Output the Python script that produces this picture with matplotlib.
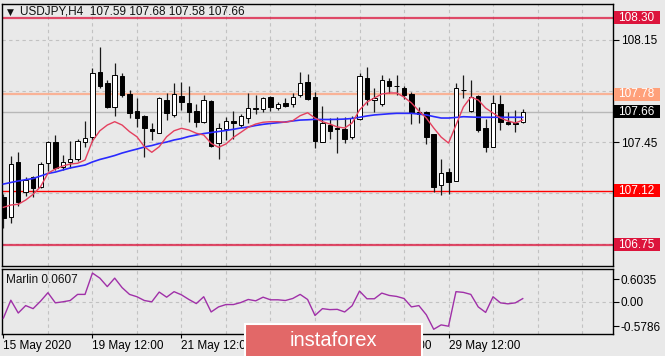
import matplotlib
matplotlib.use('Agg')
import matplotlib.pyplot as plt
import matplotlib.transforms as mtransforms
from matplotlib.patches import Rectangle
import numpy as np

plt.rcParams['font.family'] = ['Liberation Sans', 'DejaVu Sans']

# ---------------- data ----------------
title_text = "USDJPY,H4  107.59 107.68 107.58 107.66"
osc_name = "Marlin 0.0607"

opens = [107.080, 106.939, 107.315, 107.110, 107.212, 107.148, 107.312, 107.455, 107.285, 107.319,
         107.337, 107.451, 107.489, 107.929, 107.854, 107.694, 107.904, 107.779, 107.665, 107.631,
         107.542, 107.518, 107.740, 107.638, 107.769, 107.720, 107.668, 107.593, 107.733, 107.446,
         107.539, 107.599, 107.569, 107.619, 107.677, 107.679, 107.763, 107.687, 107.718, 107.711,
         107.774, 107.860, 107.763, 107.455, 107.569, 107.551, 107.540, 107.489, 107.608, 107.888,
         107.740, 107.713, 107.870, 107.836, 107.820, 107.779, 107.660, 107.661, 107.506, 107.160,
         107.250, 107.189, 107.808, 107.665, 107.769, 107.547, 107.421, 107.713, 107.592, 107.585,
         107.59]
highs = [107.098, 107.358, 107.383, 107.216, 107.221, 107.319, 107.460, 107.501, 107.364, 107.460,
         107.474, 107.599, 107.957, 108.104, 107.877, 107.991, 107.926, 107.805, 107.752, 107.638,
         107.581, 107.763, 107.786, 107.858, 107.863, 107.839, 107.713, 107.774, 107.740, 107.583,
         107.624, 107.665, 107.644, 107.790, 107.774, 107.763, 107.767, 107.728, 107.752, 107.786,
         107.929, 107.918, 107.797, 107.699, 107.615, 107.626, 107.626, 107.631, 107.922, 107.962,
         107.820, 107.911, 107.890, 107.911, 107.839, 107.797, 107.694, 107.665, 107.511, 107.335,
         107.274, 107.854, 107.911, 107.877, 107.774, 107.608, 107.774, 107.774, 107.660, 107.672,
         107.68]
lows = [106.864, 106.902, 107.018, 107.087, 107.080, 107.141, 107.257, 107.262, 107.262, 107.274,
        107.326, 107.421, 107.455, 107.820, 107.683, 107.629, 107.763, 107.615, 107.558, 107.349,
        107.467, 107.513, 107.603, 107.627, 107.672, 107.592, 107.558, 107.581, 107.421, 107.334,
        107.467, 107.472, 107.554, 107.581, 107.644, 107.660, 107.667, 107.672, 107.694, 107.694,
        107.758, 107.740, 107.409, 107.450, 107.472, 107.380, 107.448, 107.472, 107.603, 107.706,
        107.660, 107.699, 107.788, 107.774, 107.747, 107.576, 107.581, 107.440, 107.114, 107.091,
        107.098, 107.187, 107.752, 107.661, 107.524, 107.387, 107.418, 107.535, 107.569, 107.519,
        107.58]
closes = [106.932, 107.301, 107.041, 107.194, 107.141, 107.301, 107.455, 107.274, 107.315, 107.337,
          107.460, 107.479, 107.922, 107.838, 107.694, 107.911, 107.774, 107.649, 107.615, 107.547,
          107.528, 107.752, 107.648, 107.779, 107.728, 107.660, 107.592, 107.740, 107.429, 107.547,
          107.597, 107.581, 107.631, 107.687, 107.683, 107.752, 107.694, 107.711, 107.699, 107.763,
          107.854, 107.748, 107.460, 107.581, 107.530, 107.540, 107.472, 107.615, 107.904, 107.745,
          107.752, 107.877, 107.836, 107.834, 107.774, 107.649, 107.642, 107.489, 107.144, 107.240,
          107.178, 107.820, 107.806, 107.763, 107.535, 107.421, 107.718, 107.592, 107.576, 107.574,
          107.66]
ma_fast = [107.007, 107.023, 107.028, 107.057, 107.096, 107.148, 107.240, 107.269, 107.289, 107.303,
           107.308, 107.330, 107.460, 107.530, 107.569, 107.592, 107.569, 107.524, 107.489, 107.421,
           107.383, 107.421, 107.489, 107.530, 107.547, 107.535, 107.513, 107.501, 107.444, 107.417,
           107.440, 107.485, 107.519, 107.554, 107.576, 107.588, 107.592, 107.592, 107.588, 107.599,
           107.633, 107.653, 107.617, 107.592, 107.576, 107.556, 107.549, 107.583, 107.672, 107.726,
           107.754, 107.781, 107.788, 107.788, 107.760, 107.720, 107.665, 107.617, 107.549, 107.487,
           107.446, 107.569, 107.692, 107.760, 107.740, 107.685, 107.651, 107.617, 107.597, 107.583,
           107.603]
ma_slow = [107.166, 107.177, 107.187, 107.196, 107.204, 107.221, 107.238, 107.248, 107.262, 107.276,
           107.286, 107.296, 107.317, 107.334, 107.347, 107.361, 107.378, 107.392, 107.405, 107.419,
           107.429, 107.443, 107.453, 107.467, 107.477, 107.491, 107.501, 107.511, 107.518, 107.525,
           107.532, 107.540, 107.549, 107.556, 107.566, 107.574, 107.580, 107.585, 107.590, 107.597,
           107.603, 107.605, 107.608, 107.607, 107.607, 107.608, 107.610, 107.614, 107.622, 107.631,
           107.638, 107.642, 107.646, 107.649, 107.649, 107.649, 107.644, 107.638, 107.627, 107.617,
           107.617, 107.621, 107.626, 107.624, 107.622, 107.622, 107.622, 107.622, 107.622, 107.622,
           107.622]
marlin = [-0.296, 0.032, -0.203, -0.067, -0.123, 0.013, 0.169, -0.017, 0.002, 0.026,
          0.138, 0.138, 0.529, 0.436, 0.281, 0.436, 0.262, 0.138, 0.095, 0.026,
          0.002, 0.181, 0.087, 0.188, 0.130, 0.045, -0.030, 0.095, -0.184, -0.091,
          -0.048, -0.048, -0.011, 0.045, 0.020, 0.087, 0.039, 0.039, 0.026, 0.063,
          0.138, 0.045, -0.248, -0.123, -0.141, -0.136, -0.184, -0.070, 0.199, 0.058,
          0.058, 0.162, 0.119, 0.101, 0.063, -0.091, -0.067, -0.235, -0.501, -0.421,
          -0.445, 0.188, 0.175, 0.138, -0.091, -0.192, 0.095, -0.017, -0.035, -0.017,
          0.0607]

level_prices = [108.30, 107.78, 107.12, 106.75]
level_colors = ['#DC143C', '#FFA07A', '#FF0000', '#DC143C']
current_price = 107.66
price_ticks = [108.15, 107.45]
price_grid = [108.15, 107.80, 107.45, 107.105, 106.76]
osc_min, osc_max = -0.5786, 0.6035
date_ticks = [0, 12, 24, 36, 48, 60]
date_labels = ['15 May 2020', '19 May 12:00', '21 May 12:00', '25 May 12:00',
               '27 May 12:00', '29 May 12:00']

# ---------------- figure ----------------
W, H = 665, 356
fig = plt.figure(figsize=(W / 100, H / 100), dpi=100)
bg = '#e9e9e9'
fig.patch.set_facecolor(bg)


def rect(l, t, r, b):
    return [l / W, 1 - b / H, (r - l) / W, (b - t) / H]


ax = fig.add_axes(rect(2.3, 3.5, 612.5, 265.5))
axo = fig.add_axes(rect(2.3, 269, 612.5, 333.5), sharex=ax)
for a in (ax, axo):
    a.set_facecolor(bg)
    for s in a.spines.values():
        s.set_color('black')
        s.set_linewidth(1)

n = len(closes)
x = np.arange(n)
o = np.array(opens); c = np.array(closes)
hi = np.array(highs); lo = np.array(lows)

ax.set_xlim(-0.15, 82.1)
ax.set_ylim(106.610, 108.399)
axo.set_ylim(osc_min, osc_max)

grid_kw = dict(color='#c2c2c2', lw=0.8, ls=(0, (3, 3)), zorder=0)
for xv in range(6, 83, 6):
    ax.axvline(xv, **grid_kw)
    axo.axvline(xv, **grid_kw)
for yv in price_grid:
    ax.axhline(yv, **grid_kw)
axo.axhline(0, **grid_kw)

# levels
for p, col in zip(level_prices, level_colors):
    lw = 1.0 if col == '#FF0000' else 1.6
    alpha = 1.0 if col == '#FF0000' else 0.75
    ax.axhline(p, color=col, lw=lw, alpha=alpha, zorder=1)
ax.axhline(current_price, color='#b8b8b8', lw=1.0, zorder=1)

# candles
ax.vlines(x, lo, hi, color='#1a1a1a', lw=0.9, zorder=3)
up = c >= o
body_h = np.maximum(np.abs(c - o), 0.002)
ax.bar(x, body_h, bottom=np.minimum(o, c), width=0.6,
       color=np.where(up, 'white', 'black'), edgecolor='black', linewidth=0.7, zorder=4)

ax.plot(x, ma_slow, color='#2a2aff', lw=1.2, zorder=5)
ax.plot(x, ma_fast, color='#e4405e', lw=1.0, zorder=6)

# right price axis
ax.yaxis.tick_right()
ax.set_yticks(price_ticks)
ax.set_yticklabels([f'{v:.2f}' for v in price_ticks])
ax.tick_params(axis='y', direction='out', length=4, pad=2, labelsize=8.5, colors='black')
ax.tick_params(axis='x', bottom=False, labelbottom=False)

trans = mtransforms.blended_transform_factory(ax.transAxes, ax.transData)
hh = 6.5 / 146.45
bx0 = (614 - 2.3) / 610.2
bw = (660 - 614) / 610.2
tx = (618.5 - 2.3) / 610.2
for p, col in list(zip(level_prices, level_colors)) + [(current_price, 'black')]:
    ax.add_patch(Rectangle((bx0, p - hh), bw, 2 * hh, transform=trans, fc=col, ec='none',
                           clip_on=False, zorder=7))
    ax.text(tx, p, f'{p:.2f}', transform=trans, color='white', fontsize=8.5,
            va='center', ha='left', clip_on=False, zorder=8)

# title
fig.text(6.5 / W, 1 - 12 / H, '\u25bc', fontsize=6.5, va='center', ha='left', color='#111111',
         family=['DejaVu Sans'])
fig.text(20 / W, 1 - 12 / H, title_text, fontsize=8.5, va='center', ha='left', color='#111111')

# oscillator
axo.plot(x, marlin, color='#a030a8', lw=1.0, zorder=3)
axo.yaxis.tick_right()
axo.set_yticks([0.42, 0.0, -0.45])
axo.set_yticklabels(['0.6035', '0.00', '-0.5786'])
axo.tick_params(axis='y', direction='out', length=4, pad=2, labelsize=8.5, colors='black')
axo.set_xticks(date_ticks)
axo.set_xticklabels(date_labels, ha='left')
axo.tick_params(axis='x', direction='out', length=3, pad=2, labelsize=8.5, colors='black')
axo.text((6 - 2.3) / 610.2, (333.5 - 280) / 64.5, osc_name, transform=axo.transAxes,
         fontsize=8.5, va='center', ha='left', color='#111111')

# watermark
fig.add_artist(Rectangle((244.5 / W, -0.01), (421.5 - 244.5) / W, (356 - 324) / H + 0.01,
                         transform=fig.transFigure, fc='#e26868', ec='white', lw=1.5, zorder=10))
fig.text(333 / W, 1 - 340 / H, 'instaforex', color='white', fontsize=14.5,
         ha='center', va='center', zorder=11)

fig.savefig('out.png', dpi=100, facecolor=bg)
